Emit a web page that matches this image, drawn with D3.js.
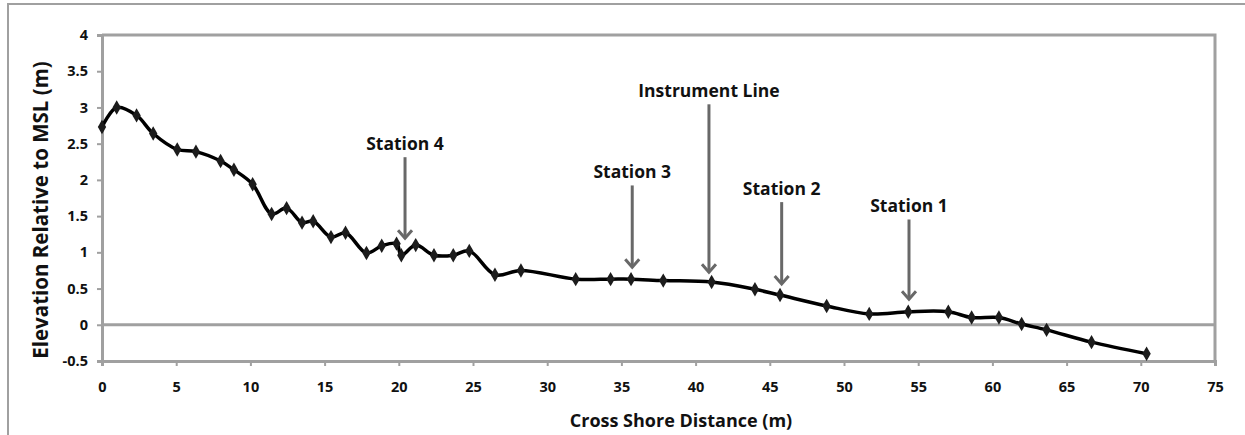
<!DOCTYPE html>
<html>
<head>
<meta charset="utf-8">
<script src="https://cdn.jsdelivr.net/npm/d3@7"></script>
<style>
  html, body { margin: 0; padding: 0; background: #fff; }
  svg { display: block; }
  text { font-family: "Open Sans", Lato, sans-serif; font-weight: bold; fill: #111; }
</style>
</head>
<body>
<svg id="chart" width="1245" height="435"></svg>
<script>
// Beach profile survey: cross-shore distance (m) and elevation relative to MSL (m)
const distance = [0, 0.99, 2.33, 3.45, 5.07, 6.33, 7.99, 8.89, 10.15, 11.43, 12.44, 13.48,
  14.23, 15.43, 16.41, 17.82, 18.85, 19.85, 20.17, 21.14, 22.37, 23.67, 24.75, 26.48,
  28.23, 31.92, 34.27, 35.65, 37.82, 41.08, 44.0, 45.69, 48.83, 51.7, 54.33, 57.03,
  58.6, 60.44, 61.97, 63.65, 66.68, 70.39];
const elevation = [2.73, 3.0, 2.89, 2.64, 2.42, 2.39, 2.26, 2.14, 1.94, 1.53, 1.61, 1.41,
  1.43, 1.21, 1.27, 0.99, 1.09, 1.12, 0.96, 1.10, 0.96, 0.96, 1.02, 0.69,
  0.75, 0.63, 0.63, 0.63, 0.61, 0.59, 0.49, 0.41, 0.26, 0.15, 0.18, 0.18,
  0.10, 0.10, 0.01, -0.07, -0.24, -0.40];

// Annotated positions along the transect
const markerNames = ["Station 4", "Station 3", "Instrument Line", "Station 2", "Station 1"];
const markerDistance = [20.42, 35.73, 40.9, 45.8, 54.38];
const markerTip = [1.18, 0.78, 0.71, 0.55, 0.34];     // arrow tip elevation
const markerLabel = [2.41, 2.02, 3.14, 1.79, 1.55];   // label baseline elevation

const xTicks = d3.range(0, 76, 5);
const yTicks = [-0.5, 0, 0.5, 1, 1.5, 2, 2.5, 3, 3.5, 4];

const svg = d3.select("#chart");
const plotLeft = 102, plotRight = 1215, plotTop = 35, plotBottom = 361;
const axisGray = "#a0a0a0";

const x = d3.scaleLinear().domain([0, 75]).range([plotLeft, plotRight]);
const y = d3.scaleLinear().domain([-0.5, 4]).range([plotBottom, plotTop]);

// outer chart frame
svg.append("rect")
  .attr("x", 8).attr("y", 4).attr("width", 1300).attr("height", 500)
  .attr("fill", "none").attr("stroke", axisGray).attr("stroke-width", 2);

const defs = svg.append("defs");
defs.append("filter").attr("id", "soft")
  .attr("x", "-5%").attr("y", "-20%").attr("width", "110%").attr("height", "140%")
  .append("feGaussianBlur").attr("stdDeviation", 0.6);

// plot area frame (top and right edges)
svg.append("path")
  .attr("d", `M${plotLeft},${plotTop}H${plotRight}V${plotBottom}`)
  .attr("fill", "none").attr("stroke", axisGray).attr("stroke-width", 3);

// zero line
svg.append("line")
  .attr("x1", plotLeft).attr("x2", plotRight).attr("y1", y(0)).attr("y2", y(0))
  .attr("stroke", axisGray).attr("stroke-width", 3);

// axes
const xAxis = svg.append("g").attr("transform", `translate(0,${plotBottom})`)
  .call(d3.axisBottom(x).tickValues(xTicks).tickSize(5).tickPadding(16).tickFormat(d3.format("d")));
const yAxis = svg.append("g").attr("transform", `translate(${plotLeft},0)`)
  .call(d3.axisLeft(y).tickValues(yTicks).tickSize(5).tickPadding(9).tickFormat(d => String(d)));

[xAxis, yAxis].forEach(g => {
  g.select(".domain").attr("stroke", axisGray).attr("stroke-width", 3);
  g.selectAll(".tick line").attr("stroke", axisGray).attr("stroke-width", 2);
  g.selectAll(".tick text").attr("fill", "#111").style("font-size", "14.5px")
    .style("font-family", "'Open Sans', sans-serif").style("font-weight", "bold");
});

// axis titles
svg.append("text")
  .attr("x", 681).attr("y", 427).attr("text-anchor", "middle")
  .style("font-size", "18px").text("Cross Shore Distance (m)");
svg.append("text")
  .attr("transform", `translate(48,210) rotate(-90)`).attr("text-anchor", "middle")
  .style("font-size", "20.5px").text("Elevation Relative to MSL (m)");

// smoothed profile line with diamond markers
const pts = distance.map((d, i) => [d, elevation[i]]);
const profile = svg.append("g").attr("filter", "url(#soft)");
profile.append("path")
  .datum(pts)
  .attr("d", d3.line().curve(d3.curveCatmullRom.alpha(0.5)).x(d => x(d[0])).y(d => y(d[1])))
  .attr("fill", "none").attr("stroke", "#000").attr("stroke-width", 3.5)
  .attr("stroke-linejoin", "round");
profile.selectAll("path.pt")
  .data(pts).join("path").attr("class", "pt")
  .attr("transform", d => `translate(${x(d[0])},${y(d[1])})`)
  .attr("d", d3.symbol(d3.symbolDiamond, 60))
  .attr("fill", "#1a1a1a");

// station arrows and labels
const arrowGray = "#686868";
const ann = svg.append("g");
markerNames.forEach((name, i) => {
  const ax = x(markerDistance[i]);
  const ly = y(markerLabel[i]);
  const ty = y(markerTip[i]);
  ann.append("text").attr("x", ax).attr("y", ly).attr("text-anchor", "middle")
    .style("font-size", "17.5px").text(name);
  ann.append("line").attr("x1", ax).attr("x2", ax).attr("y1", ly + 7).attr("y2", ty - 1)
    .attr("stroke", arrowGray).attr("stroke-width", 3);
  ann.append("path")
    .attr("d", `M${ax - 7},${ty - 9}L${ax},${ty - 1}L${ax + 7},${ty - 9}`)
    .attr("fill", "none").attr("stroke", arrowGray).attr("stroke-width", 3)
    .attr("stroke-linejoin", "miter");
});
</script>
</body>
</html>
